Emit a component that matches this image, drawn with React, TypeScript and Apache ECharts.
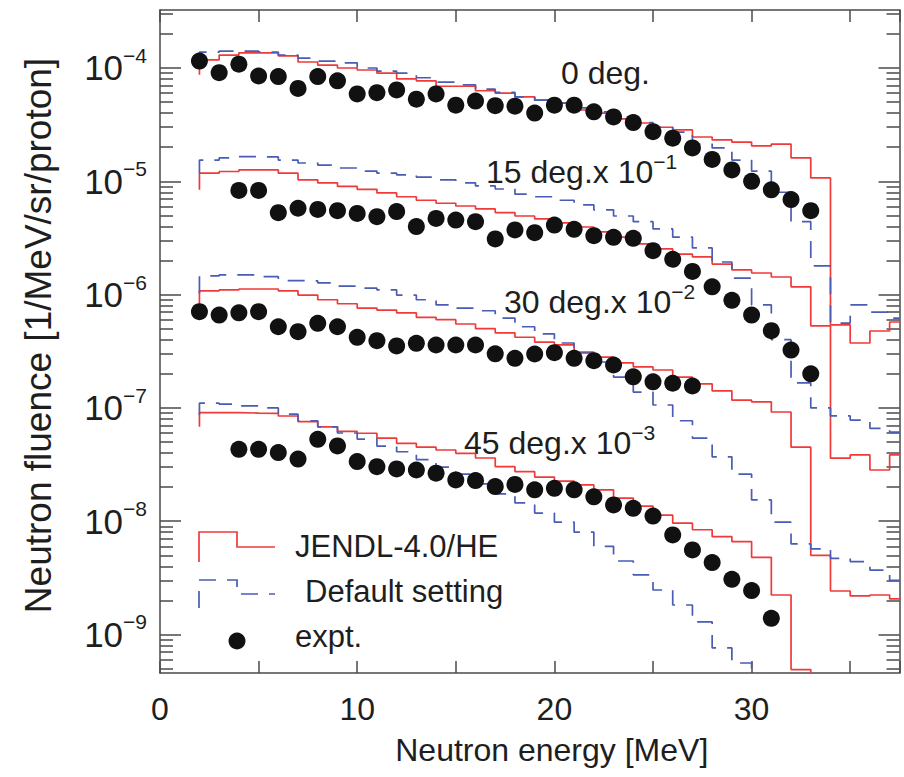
import React, { useEffect, useRef } from 'react';
import * as echarts from 'echarts';

const FONT = '"Liberation Sans", Arial, Helvetica, sans-serif';
const TEXT = '#1e1e1e';
const FRAME = '#4a4a4a';
const RED = '#f03a3a';
const BLUE = '#4a5cb4';
const DOT = '#111111';

// axes
const X_MIN = 0;
const X_MAX = 37.5;
const X_TICK_STEP = 5;
const X_LABELS = [0, 10, 20, 30];
const Y_MIN = 4.57e-10;
const Y_MAX = 3.25e-4;
const DECADES = [-9, -8, -7, -6, -5, -4];

// histograms: 1-MeV bins, first bin starts at 2 MeV
const HIST_START = 2;
const OFF_SCALE = 1e-11;

// 0 deg.
const JENDL_0_LEAD = 8.7e-5;
const JENDL_0 = [1.18e-4, 1.3e-4, 1.36e-4, 1.36e-4, 1.28e-4, 1.13e-4, 1.06e-4, 1.0e-4, 9.6e-5, 9.0e-5, 8.0e-5, 7.7e-5, 6.9e-5, 6.9e-5, 6.3e-5, 6.0e-5, 5.55e-5, 5.2e-5, 4.9e-5, 4.26e-5, 4.0e-5, 3.55e-5, 3.27e-5, 3.0e-5, 2.84e-5, 2.46e-5, 2.32e-5, 2.22e-5, 2.05e-5, 2.13e-5, 1.61e-5, 1.07e-5, 5.4e-7, 3.74e-7, 4.77e-7, 5.73e-7];
const DEFAULT_0_LEAD = 1.13e-4;
const DEFAULT_0 = [1.38e-4, 1.41e-4, 1.41e-4, 1.38e-4, 1.3e-4, 1.22e-4, 1.15e-4, 1.11e-4, 1.0e-4, 9.4e-5, 9.0e-5, 8.2e-5, 7.5e-5, 7.1e-5, 6.5e-5, 6.1e-5, 5.55e-5, 5.2e-5, 4.9e-5, 4.44e-5, 4.1e-5, 3.7e-5, 3.3e-5, 3.0e-5, 2.72e-5, 2.13e-5, 1.97e-5, 1.54e-5, 1.23e-5, 8.0e-6, 4.4e-6, 1.79e-6, 5.6e-7, 8.1e-7, 7.0e-7, 6.2e-7];
const EXPT_0_START = 2;
const EXPT_0 = [1.15e-4, 9.1e-5, 1.08e-4, 8.5e-5, 8.4e-5, 6.6e-5, 8.4e-5, 7.7e-5, 5.9e-5, 6.05e-5, 6.4e-5, 5.3e-5, 5.9e-5, 4.7e-5, 5.1e-5, 4.65e-5, 4.6e-5, 4.0e-5, 4.7e-5, 4.7e-5, 4.1e-5, 3.7e-5, 3.3e-5, 2.74e-5, 2.4e-5, 1.97e-5, 1.56e-5, 1.26e-5, 1.0e-5, 8.4e-6, 6.9e-6, 5.5e-6];

// 15 deg. x 10^-1
const JENDL_15_LEAD = 8.4e-6;
const JENDL_15 = [1.18e-5, 1.22e-5, 1.26e-5, 1.26e-5, 1.18e-5, 1.03e-5, 9.7e-6, 9.0e-6, 8.5e-6, 7.9e-6, 7.3e-6, 6.8e-6, 6.4e-6, 6.05e-6, 5.7e-6, 5.3e-6, 4.94e-6, 4.65e-6, 4.3e-6, 3.95e-6, 3.57e-6, 3.22e-6, 2.8e-6, 2.53e-6, 2.28e-6, 2.15e-6, 1.86e-6, 1.65e-6, 1.55e-6, 1.43e-6, 1.17e-6, 5.3e-7, 3.6e-8, 3.84e-8, 2.83e-8, 3.84e-8];
const DEFAULT_15_LEAD = 1.18e-5;
const DEFAULT_15 = [1.54e-5, 1.61e-5, 1.65e-5, 1.64e-5, 1.54e-5, 1.45e-5, 1.39e-5, 1.31e-5, 1.23e-5, 1.18e-5, 1.14e-5, 1.09e-5, 1.03e-5, 9.7e-6, 9.1e-6, 8.55e-6, 7.7e-6, 7.3e-6, 6.8e-6, 6.2e-6, 5.6e-6, 4.94e-6, 4.4e-6, 3.8e-6, 3.22e-6, 2.58e-6, 1.94e-6, 1.4e-6, 8.1e-7, 4.0e-7, 1.66e-7, 1.0e-7, 8.5e-8, 7.8e-8, 6.6e-8, 6.1e-8];
const EXPT_15_START = 4;
const EXPT_15 = [8.3e-6, 8.3e-6, 5.28e-6, 5.78e-6, 5.65e-6, 5.5e-6, 5.2e-6, 4.87e-6, 5.4e-6, 3.98e-6, 4.7e-6, 4.55e-6, 4.4e-6, 3.1e-6, 3.72e-6, 3.52e-6, 4.11e-6, 3.77e-6, 3.31e-6, 3.2e-6, 3.14e-6, 2.44e-6, 2.05e-6, 1.6e-6, 1.17e-6, 8.9e-7, 6.6e-7, 4.8e-7, 3.24e-7, 2.0e-7];

// 30 deg. x 10^-2
const JENDL_30_LEAD = 7.0e-7;
const JENDL_30 = [1.08e-6, 1.1e-6, 1.12e-6, 1.12e-6, 1.08e-6, 9.9e-7, 9.0e-7, 8.3e-7, 7.6e-7, 7.3e-7, 6.9e-7, 6.3e-7, 6.0e-7, 5.5e-7, 5.0e-7, 4.6e-7, 4.2e-7, 3.8e-7, 3.6e-7, 3.1e-7, 2.8e-7, 2.5e-7, 2.3e-7, 2.16e-7, 1.87e-7, 1.63e-7, 1.41e-7, 1.17e-7, 1.13e-7, 9.2e-8, 4.5e-8, 5.0e-9, 2.42e-9, 2.19e-9, 2.23e-9, 2.06e-9];
const DEFAULT_30_LEAD = 1.03e-6;
const DEFAULT_30 = [1.46e-6, 1.49e-6, 1.49e-6, 1.44e-6, 1.33e-6, 1.32e-6, 1.27e-6, 1.19e-6, 1.14e-6, 1.1e-6, 9.9e-7, 9.0e-7, 8.1e-7, 7.6e-7, 7.2e-7, 6.2e-7, 5.2e-7, 4.5e-7, 3.74e-7, 3.05e-7, 2.54e-7, 1.87e-7, 1.38e-7, 1.06e-7, 7.7e-8, 5.4e-8, 3.7e-8, 2.6e-8, 1.54e-8, 9.8e-9, 6.3e-9, 5.7e-9, 4.7e-9, 4.4e-9, 3.7e-9, 3.0e-9];
const EXPT_30_START = 2;
const EXPT_30 = [7.06e-7, 6.6e-7, 6.9e-7, 7.06e-7, 5.2e-7, 4.71e-7, 5.58e-7, 5.2e-7, 4.2e-7, 3.92e-7, 3.52e-7, 3.71e-7, 3.59e-7, 3.59e-7, 3.59e-7, 3.0e-7, 2.74e-7, 2.99e-7, 3.07e-7, 2.74e-7, 2.61e-7, 2.39e-7, 1.88e-7, 1.7e-7, 1.65e-7, 1.56e-7];

// 45 deg. x 10^-3 (both calculations fall below the axis at the end)
const JENDL_45_LEAD = 6.8e-8;
const JENDL_45 = [9.07e-8, 9.07e-8, 9.0e-8, 8.96e-8, 8.48e-8, 7.55e-8, 6.8e-8, 6.2e-8, 5.97e-8, 5.4e-8, 4.87e-8, 4.5e-8, 4.25e-8, 3.97e-8, 3.61e-8, 3.03e-8, 2.74e-8, 2.45e-8, 2.26e-8, 2.09e-8, 1.89e-8, 1.6e-8, 1.36e-8, 1.13e-8, 9.6e-9, 8.4e-9, 7.3e-9, 6.6e-9, 4.8e-9, 2.23e-9, 4.9e-10];
const DEFAULT_45_LEAD = 8.7e-8;
const DEFAULT_45 = [1.1e-7, 1.08e-7, 1.04e-7, 1.0e-7, 8.8e-8, 7.7e-8, 6.8e-8, 6.0e-8, 5.3e-8, 4.6e-8, 4.1e-8, 3.5e-8, 3.0e-8, 2.6e-8, 2.13e-8, 1.74e-8, 1.45e-8, 1.18e-8, 9.8e-9, 8.0e-9, 6.0e-9, 4.45e-9, 3.36e-9, 2.47e-9, 1.82e-9, 1.29e-9, 7.6e-10, 5.6e-10];
const EXPT_45_START = 4;
const EXPT_45 = [4.31e-8, 4.31e-8, 4.03e-8, 3.53e-8, 5.28e-8, 4.61e-8, 3.36e-8, 3.03e-8, 2.89e-8, 2.83e-8, 2.65e-8, 2.31e-8, 2.28e-8, 2.02e-8, 2.11e-8, 1.89e-8, 1.95e-8, 1.89e-8, 1.64e-8, 1.39e-8, 1.3e-8, 1.11e-8, 7.56e-9, 5.57e-9, 4.31e-9, 3.07e-9, 2.44e-9, 1.39e-9];

const MAJOR_TICKS = DECADES.map((d) => Math.pow(10, d));
const MINOR_TICKS: number[] = [];
for (let d = -10; d <= -4; d++) {
  for (let m = 2; m <= 9; m++) {
    const v = m * Math.pow(10, d);
    if (v > Y_MIN && v < Y_MAX) MINOR_TICKS.push(v);
  }
}

function histogram(values: number[], lead: number, dropsOff: boolean) {
  const pts: number[][] = [[HIST_START, lead]];
  values.forEach((v, i) => pts.push([HIST_START + i, v]));
  const end = HIST_START + values.length;
  pts.push(dropsOff ? [end, OFF_SCALE] : [Math.min(end, X_MAX), values[values.length - 1]]);
  return pts;
}

function points(start: number, values: number[]) {
  return values.map((v, i) => [start + i, v]);
}

function lineSeries(name: string, data: number[][], color: string, dashed: boolean) {
  return {
    type: 'line',
    name,
    data,
    step: 'end',
    symbol: 'none',
    showSymbol: false,
    silent: true,
    clip: true,
    z: dashed ? 3 : 2,
    lineStyle: { color, width: 1.7, type: dashed ? [17, 11] : 'solid', opacity: 1 },
    itemStyle: { color },
  };
}

function dotSeries(data: number[][]) {
  return {
    type: 'scatter',
    name: 'expt.',
    data,
    symbol: 'circle',
    symbolSize: 17,
    silent: true,
    z: 5,
    itemStyle: { color: DOT, opacity: 1 },
  };
}

const lineStyle = { color: FRAME, width: 1.5 };
const yBase = {
  type: 'log',
  logBase: 10,
  min: Y_MIN,
  max: Y_MAX,
  splitLine: { show: false },
  minorTick: { show: false },
  minorSplitLine: { show: false },
};

const supRich = {
  b: { fontSize: 35, fontFamily: FONT, color: TEXT, lineHeight: 46 },
  s: { fontSize: 21, fontFamily: FONT, color: TEXT, verticalAlign: 'top', lineHeight: 21 },
};

function annotation(x: number, y: number, main: string, sup?: string) {
  return {
    type: 'text',
    x,
    y,
    silent: true,
    style: {
      text: sup ? `{m|${main}}{s|${sup}}` : `{m|${main}}`,
      fill: TEXT,
      align: 'left',
      verticalAlign: 'middle',
      rich: {
        m: { fontSize: 32, fontFamily: FONT, fill: TEXT, lineHeight: 42 },
        s: { fontSize: 21, fontFamily: FONT, fill: TEXT, verticalAlign: 'top', lineHeight: 21 },
      },
    },
  };
}

function legendText(x: number, y: number, text: string) {
  return {
    type: 'text',
    x,
    y,
    silent: true,
    style: { text, fill: TEXT, fontSize: 31, fontFamily: FONT, align: 'left', verticalAlign: 'middle' },
  };
}

const option = {
  animation: false,
  backgroundColor: '#ffffff',
  grid: { left: 160, right: 4.5, top: 10, bottom: 104, containLabel: false },
  xAxis: [
    {
      type: 'value',
      min: X_MIN,
      max: X_MAX,
      interval: X_TICK_STEP,
      position: 'bottom',
      axisLine: { show: true, onZero: false, lineStyle },
      axisTick: { show: true, inside: true, length: 12, lineStyle },
      axisLabel: {
        show: true,
        margin: 20,
        fontSize: 32,
        fontFamily: FONT,
        color: TEXT,
        formatter: (v: number) => (X_LABELS.indexOf(v) >= 0 ? String(v) : ''),
      },
      splitLine: { show: false },
      name: 'Neutron energy [MeV]',
      nameLocation: 'middle',
      nameGap: 61,
      nameTextStyle: { fontSize: 32, fontFamily: FONT, color: TEXT, padding: [0, 0, 0, 44] },
    },
    {
      type: 'value',
      min: X_MIN,
      max: X_MAX,
      interval: X_TICK_STEP,
      position: 'top',
      axisLine: { show: true, onZero: false, lineStyle },
      axisTick: { show: true, inside: true, length: 12, lineStyle },
      axisLabel: { show: false },
      splitLine: { show: false },
    },
  ],
  yAxis: [
    {
      ...yBase,
      position: 'left',
      axisLine: { show: true, onZero: false, lineStyle },
      axisTick: { show: true, inside: true, length: 21, lineStyle, customValues: MAJOR_TICKS },
      axisLabel: {
        show: true,
        margin: 13,
        customValues: MAJOR_TICKS,
        formatter: (v: number) => {
          const e = Math.log10(v);
          const r = Math.round(e);
          return Math.abs(e - r) < 1e-6 ? `{b|10}{s|\u2212${Math.abs(r)}}` : '';
        },
        rich: supRich,
      },
      name: 'Neutron fluence [1/MeV/sr/proton]',
      nameLocation: 'middle',
      nameGap: 103,
      nameTextStyle: { fontSize: 37, fontFamily: FONT, color: TEXT, padding: [0, 0, 0, 12] },
    },
    {
      ...yBase,
      position: 'left',
      axisLine: { show: false, onZero: false },
      axisTick: { show: true, inside: true, length: 13, lineStyle, customValues: MINOR_TICKS },
      axisLabel: { show: false },
    },
    {
      ...yBase,
      position: 'right',
      axisLine: { show: true, onZero: false, lineStyle },
      axisTick: { show: true, inside: true, length: 21, lineStyle, customValues: MAJOR_TICKS },
      axisLabel: { show: false },
    },
    {
      ...yBase,
      position: 'right',
      axisLine: { show: false, onZero: false },
      axisTick: { show: true, inside: true, length: 13, lineStyle, customValues: MINOR_TICKS },
      axisLabel: { show: false },
    },
  ],
  series: [
    lineSeries('JENDL-4.0/HE', histogram(JENDL_0, JENDL_0_LEAD, false), RED, false),
    lineSeries('JENDL-4.0/HE', histogram(JENDL_15, JENDL_15_LEAD, false), RED, false),
    lineSeries('JENDL-4.0/HE', histogram(JENDL_30, JENDL_30_LEAD, false), RED, false),
    lineSeries('JENDL-4.0/HE', histogram(JENDL_45, JENDL_45_LEAD, true), RED, false),
    lineSeries('Default setting', histogram(DEFAULT_0, DEFAULT_0_LEAD, false), BLUE, true),
    lineSeries('Default setting', histogram(DEFAULT_15, DEFAULT_15_LEAD, false), BLUE, true),
    lineSeries('Default setting', histogram(DEFAULT_30, DEFAULT_30_LEAD, false), BLUE, true),
    lineSeries('Default setting', histogram(DEFAULT_45, DEFAULT_45_LEAD, true), BLUE, true),
    dotSeries(points(EXPT_0_START, EXPT_0)),
    dotSeries(points(EXPT_15_START, EXPT_15)),
    dotSeries(points(EXPT_30_START, EXPT_30)),
    dotSeries(points(EXPT_45_START, EXPT_45)),
  ],
  graphic: [
    annotation(561, 73, '0 deg.'),
    annotation(486, 172, '15 deg.x 10', '\u22121'),
    annotation(504, 302, '30 deg.x 10', '\u22122'),
    annotation(464, 443, '45 deg.x 10', '\u22123'),
    {
      type: 'polyline',
      silent: true,
      shape: { points: [[199, 562], [199, 532], [237, 532], [237, 547], [275, 547]] },
      style: { stroke: RED, lineWidth: 1.7, fill: 'none' },
    },
    {
      type: 'polyline',
      silent: true,
      shape: { points: [[199, 608], [199, 580], [237, 580], [237, 594], [275, 594]] },
      style: { stroke: BLUE, lineWidth: 1.7, fill: 'none', lineDash: [17, 11] },
    },
    {
      type: 'circle',
      silent: true,
      shape: { cx: 237, cy: 641, r: 8.5 },
      style: { fill: DOT },
    },
    legendText(295, 546, 'JENDL-4.0/HE'),
    legendText(305, 591, 'Default setting'),
    legendText(295, 636, 'expt.'),
  ],
};

export default function App() {
  const ref = useRef<HTMLDivElement>(null);
  useEffect(() => {
    if (!ref.current) return;
    const chart = echarts.init(ref.current, null, { renderer: 'svg' });
    chart.setOption(option as any);
    return () => chart.dispose();
  }, []);
  return (
    <div
      ref={ref}
      style={{ position: 'fixed', left: 0, top: 0, width: 904, height: 777, background: '#ffffff' }}
    />
  );
}
